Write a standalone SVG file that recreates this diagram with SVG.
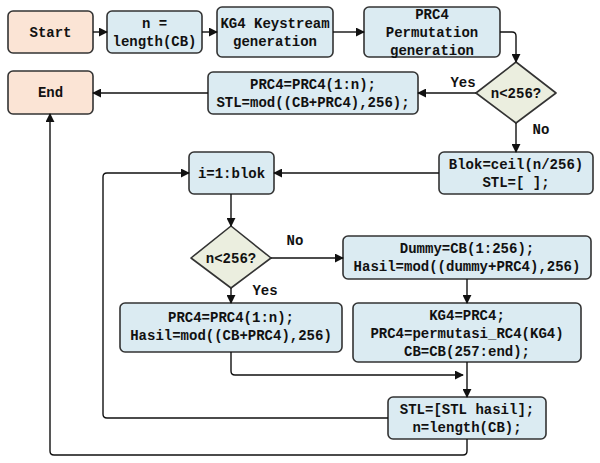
<svg xmlns="http://www.w3.org/2000/svg" width="600" height="463" viewBox="0 0 600 463">
<defs>
<marker id="ah" viewBox="0 0 10 10" refX="9" refY="5" markerWidth="9" markerHeight="9" markerUnits="userSpaceOnUse" orient="auto"><path d="M0,0 L10,5 L0,10 z" fill="#111"/></marker>
<style>
.blue{fill:#dbebf2;stroke:#333;stroke-width:1.6}
.peach{fill:#fbe4d5;stroke:#333;stroke-width:1.6}
.dia{fill:#ebeedf;stroke:#333;stroke-width:1.6}
text{font-family:"Liberation Mono","Courier New",monospace;font-weight:bold;font-size:14px;fill:#111;text-anchor:middle}
.c{fill:none;stroke:#111;stroke-width:1.4;marker-end:url(#ah)}
.l{fill:none;stroke:#111;stroke-width:1.4}
</style>
</defs>
<g id="start"><rect class="peach" x="8" y="11" width="85" height="42" rx="5"/><text x="50.5" y="37">Start</text></g>
<g id="n"><rect class="blue" x="107" y="11" width="95" height="42" rx="5"/><text x="154.5" y="28">n =</text><text x="154.5" y="46">length(CB)</text></g>
<g id="kg4"><rect class="blue" x="217" y="7" width="116" height="50" rx="5"/><text x="275" y="28">KG4 Keystream</text><text x="275" y="46">generation</text></g>
<g id="prc4"><rect class="blue" x="364" y="7" width="136" height="50" rx="5"/><text x="432" y="19">PRC4</text><text x="432" y="37">Permutation</text><text x="432" y="55">generation</text></g>
<g id="end"><rect class="peach" x="8" y="71" width="85" height="43" rx="5"/><text x="50.5" y="97">End</text></g>
<g id="prc4n"><rect class="blue" x="208" y="72" width="210" height="42" rx="5"/><text x="313" y="89">PRC4=PRC4(1:n);</text><text x="313" y="107">STL=mod((CB+PRC4),256);</text></g>
<g id="d1"><path class="dia" d="M516,62 L556,93 L516,123 L476,93 Z" stroke-linejoin="round"/><text x="516" y="98">n&lt;256?</text></g>
<g id="blok"><rect class="blue" x="439" y="152" width="154" height="42" rx="5"/><text x="516" y="169">Blok=ceil(n/256)</text><text x="516" y="187">STL=[ ];</text></g>
<g id="loop"><rect class="blue" x="189" y="152" width="85" height="42" rx="5"/><text x="231.5" y="178">i=1:blok</text></g>
<g id="d2"><path class="dia" d="M231,226 L271,258 L231,288 L191,258 Z" stroke-linejoin="round"/><text x="231" y="263">n&lt;256?</text></g>
<g id="dummy"><rect class="blue" x="343" y="236" width="248" height="43" rx="5"/><text x="467" y="253">Dummy=CB(1:256);</text><text x="467" y="271">Hasil=mod((dummy+PRC4),256)</text></g>
<g id="hasil"><rect class="blue" x="120" y="303" width="222" height="49" rx="5"/><text x="231" y="322">PRC4=PRC4(1:n);</text><text x="231" y="340">Hasil=mod((CB+PRC4),256)</text></g>
<g id="kgperm"><rect class="blue" x="353" y="303" width="228" height="59" rx="5"/><text x="467" y="320">KG4=PRC4;</text><text x="467" y="338">PRC4=permutasi_RC4(KG4)</text><text x="467" y="356">CB=CB(257:end);</text></g>
<g id="stl"><rect class="blue" x="388" y="397" width="158" height="42" rx="5"/><text x="467" y="414">STL=[STL hasil];</text><text x="467" y="432">n=length(CB);</text></g>
<g id="connectors">
<path class="c" d="M93,32 H107"/>
<path class="c" d="M202,32 H217"/>
<path class="c" d="M333,32 H364"/>
<path class="c" d="M500,32 H512 Q516,32 516,36 V62"/>
<path class="c" d="M476,93 H418"/>
<path class="c" d="M208,93 H93"/>
<path class="c" d="M516,123 V152"/>
<path class="c" d="M439,173 H274"/>
<path class="c" d="M231,194 V226"/>
<path class="c" d="M271,258 H343"/>
<path class="c" d="M231,288 V303"/>
<path class="c" d="M467,279 V303"/>
<path class="c" d="M467,362 V397"/>
<path class="c" d="M231,352 V371 Q231,375 235,375 H463"/>
<path class="c" d="M388,418 H107 Q103,418 103,414 V177 Q103,173 107,173 H189"/>
<path class="c" d="M467,439 V451 Q467,455 463,455 H54 Q50,455 50,451 V114"/>
<text x="463" y="87">Yes</text>
<text x="541" y="134">No</text>
<text x="295" y="245">No</text>
<text x="265" y="295">Yes</text>
</g>
</svg>
